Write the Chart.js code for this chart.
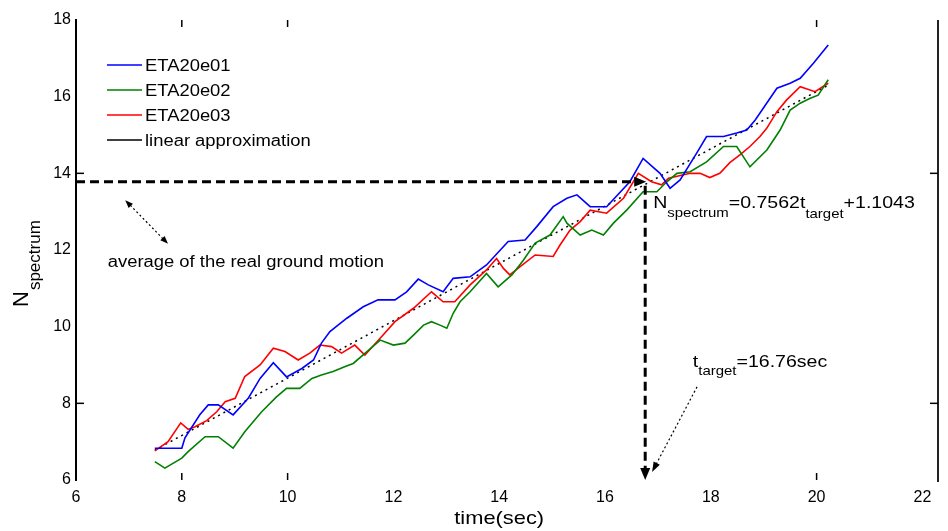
<!DOCTYPE html>
<html>
<head>
<meta charset="utf-8">
<script src="https://cdn.jsdelivr.net/npm/chart.js@4.4.1/dist/chart.umd.min.js"></script>
<style>
html,body{margin:0;padding:0;background:#fff;}
canvas{display:block;}
</style>
</head>
<body>
<canvas id="c" width="948" height="531" style="width:948px;height:531px"></canvas>
<script>
// ---------- data ----------
const seriesNames = ['ETA20e01', 'ETA20e02', 'ETA20e03', 'linear approximation'];

const timeE01 = [7.49,8.00,8.06,8.34,8.50,8.69,8.97,9.26,9.48,9.73,9.98,10.27,10.49,10.64,10.80,11.12,11.43,11.71,12.03,12.25,12.47,12.66,12.94,13.13,13.45,13.76,14.17,14.49,14.71,15.02,15.28,15.47,15.72,16.03,16.47,16.72,17.04,17.23,17.42,17.73,17.92,18.24,18.49,18.68,18.84,19.25,19.50,19.69,19.94,20.22];
const nE01    = [6.83,6.83,7.10,7.70,7.96,7.96,7.70,8.14,8.65,9.06,8.69,8.91,9.13,9.57,9.87,10.22,10.52,10.70,10.70,10.91,11.24,11.09,10.91,11.26,11.30,11.61,12.22,12.26,12.61,13.13,13.35,13.44,13.13,13.13,13.78,14.39,14.00,13.61,13.83,14.52,14.96,14.96,15.05,15.13,15.39,16.22,16.35,16.48,16.87,17.35];

const timeE02 = [7.49,7.68,8.00,8.12,8.44,8.69,8.97,9.19,9.51,9.79,9.98,10.23,10.46,10.64,10.86,11.09,11.24,11.50,11.75,12.00,12.22,12.38,12.57,12.72,12.88,13.01,13.13,13.26,13.45,13.76,13.98,14.24,14.46,14.68,14.96,15.21,15.28,15.53,15.75,15.97,16.16,16.41,16.72,16.98,17.17,17.36,17.61,17.92,18.24,18.49,18.74,19.06,19.31,19.50,19.69,19.88,20.03,20.22];
const nE02    = [6.48,6.31,6.57,6.74,7.13,7.13,6.83,7.26,7.78,8.17,8.39,8.39,8.65,8.74,8.83,8.96,9.04,9.35,9.65,9.52,9.57,9.78,10.04,10.13,10.04,9.96,10.35,10.65,10.91,11.39,11.04,11.35,11.74,12.18,12.39,12.87,12.70,12.39,12.52,12.39,12.70,13.04,13.52,13.52,13.78,14.00,14.04,14.30,14.70,14.70,14.17,14.61,15.13,15.65,15.83,15.96,16.04,16.44];

const timeE03 = [7.49,7.74,7.98,8.12,8.25,8.47,8.66,8.82,9.01,9.19,9.48,9.73,9.95,10.20,10.42,10.61,10.83,11.02,11.27,11.46,11.75,12.03,12.38,12.72,12.94,13.16,13.45,13.76,13.95,14.08,14.20,14.39,14.68,15.02,15.15,15.34,15.53,15.72,16.03,16.35,16.63,16.88,17.07,17.20,17.61,17.80,17.98,18.17,18.36,18.55,18.74,18.93,19.06,19.25,19.43,19.69,19.97,20.22];
const nE03    = [6.76,7.00,7.49,7.32,7.39,7.55,7.78,8.04,8.13,8.70,9.00,9.44,9.35,9.13,9.31,9.52,9.48,9.31,9.52,9.26,9.70,10.13,10.48,10.91,10.65,10.65,11.09,11.48,11.78,11.52,11.35,11.56,11.87,11.83,12.13,12.52,12.74,13.04,12.96,13.35,14.00,13.78,13.70,13.87,14.00,14.00,13.89,14.00,14.28,14.48,14.70,14.96,15.18,15.61,15.91,16.26,16.13,16.35];

const timeLinear = [7.49, 20.22];
const nLinear    = [6.78, 16.30];

const avgN = 13.78;     // average of the real ground motion
const targetT = 16.76;  // t_target

const xTickValues = [6, 8, 10, 12, 14, 16, 18, 20, 22];
const yTickValues = [6, 8, 10, 12, 14, 16, 18];
const xTickMarks = [8, 10, 20];
const yTickMarks = [8, 14];

// ---------- helpers ----------
const FONT = '"Liberation Sans", Arial, Helvetica, sans-serif';
const SX = 1.15; // horizontal text stretch seen in the reference
const pts = (xs, ys) => xs.map((v, i) => ({x: v, y: ys[i]}));

function line(ctx, x1, y1, x2, y2) { ctx.beginPath(); ctx.moveTo(x1, y1); ctx.lineTo(x2, y2); ctx.stroke(); }
function head(ctx, x, y, ang, len, wid) {
  ctx.save(); ctx.translate(x, y); ctx.rotate(ang);
  ctx.beginPath(); ctx.moveTo(0, 0); ctx.lineTo(-len, -wid / 2); ctx.lineTo(-len, wid / 2); ctx.closePath();
  ctx.fill(); ctx.restore();
}
function rich(ctx, segs, x, y) {
  let cx = x;
  segs.forEach(s => {
    ctx.font = s.size + 'px ' + FONT;
    ctx.save(); ctx.translate(cx, y + (s.dy || 0)); ctx.scale(SX, 1);
    ctx.fillText(s.t, 0, 0); ctx.restore();
    cx += ctx.measureText(s.t).width * SX;
  });
  return cx - x;
}

const overlay = {
  id: 'overlay',
  afterDraw(chart) {
    const {ctx, chartArea: a, scales: {x, y}} = chart;
    ctx.save();
    ctx.fillStyle = '#000'; ctx.textBaseline = 'alphabetic'; ctx.textAlign = 'left';

    // right frame line
    ctx.strokeStyle = '#222'; ctx.lineWidth = 2;
    line(ctx, a.right, a.top, a.right, a.bottom + 2);

    // inward tick marks
    ctx.strokeStyle = '#000'; ctx.lineWidth = 1.5;
    xTickMarks.forEach(v => { const p = x.getPixelForValue(v); line(ctx, p, a.bottom, p, a.bottom - 7); line(ctx, p, a.top, p, a.top + 7); });
    yTickMarks.forEach(v => { const p = y.getPixelForValue(v); line(ctx, a.left, p, a.left + 8, p); line(ctx, a.right, p, a.right - 8, p); });

    // dashed guide lines
    const tx = x.getPixelForValue(targetT), ny = y.getPixelForValue(avgN), by = y.getPixelForValue(6);
    ctx.lineWidth = 3; ctx.setLineDash([9, 5]);
    line(ctx, a.left, ny, tx - 8, ny);
    line(ctx, tx, ny + 4, tx, by - 8);
    ctx.setLineDash([]);
    head(ctx, tx + 1, ny, 0, 12, 10);
    head(ctx, tx, by, Math.PI / 2, 12, 10);

    // dotted annotation arrows
    ctx.lineWidth = 1.2; ctx.setLineDash([2, 2.5]);
    const a1 = [x.getPixelForValue(6.93), y.getPixelForValue(13.30)], a2 = [x.getPixelForValue(7.74), y.getPixelForValue(12.16)];
    line(ctx, a1[0] + 5, a1[1] + 5, a2[0] - 5, a2[1] - 5);
    const b1 = [x.getPixelForValue(17.74), y.getPixelForValue(8.43)], b2 = [x.getPixelForValue(16.89), y.getPixelForValue(6.21)];
    const angB = Math.atan2(b2[1] - b1[1], b2[0] - b1[0]);
    line(ctx, b1[0], b1[1], b2[0] - 8 * Math.cos(angB), b2[1] - 8 * Math.sin(angB));
    ctx.setLineDash([]);
    const angA = Math.atan2(a2[1] - a1[1], a2[0] - a1[0]);
    head(ctx, a1[0], a1[1], angA + Math.PI, 8, 6);
    head(ctx, a2[0], a2[1], angA, 8, 6);
    head(ctx, b2[0], b2[1], angB, 10, 7);

    // annotation texts
    rich(ctx, [{t: 'average of the real ground motion', size: 16}], x.getPixelForValue(6.6), y.getPixelForValue(11.55));
    rich(ctx, [
      {t: 'N', size: 17}, {t: 'spectrum', size: 13, dy: 9},
      {t: '=0.7562t', size: 17}, {t: 'target', size: 13, dy: 10},
      {t: '+1.1043', size: 17}
    ], x.getPixelForValue(16.91), y.getPixelForValue(13.10));
    rich(ctx, [{t: 't', size: 17}, {t: 'target', size: 13, dy: 8}, {t: '=16.76sec', size: 17}],
      x.getPixelForValue(17.66), y.getPixelForValue(8.95));

    // legend
    chart.data.datasets.forEach((ds, i) => {
      const ly = a.top + 45 + i * 25;
      ctx.strokeStyle = ds.borderColor; ctx.lineWidth = 1.5;
      line(ctx, a.left + 31, ly, a.left + 66, ly);
      rich(ctx, [{t: ds.label, size: 16}], a.left + 69, ly + 6);
    });

    // x axis title
    ctx.font = '19px ' + FONT;
    const xt = 'time(sec)', w = ctx.measureText(xt).width * SX;
    rich(ctx, [{t: xt, size: 19}], x.getPixelForValue(14) - w / 2, 524);

    // y axis title (rotated)
    ctx.save(); ctx.translate(28, 307); ctx.rotate(-Math.PI / 2);
    ctx.font = '22px ' + FONT; ctx.fillText('N', 0, 0);
    const nw = ctx.measureText('N').width;
    ctx.font = '17px ' + FONT; ctx.fillText('spectrum', nw + 1, 12);
    ctx.restore();

    ctx.restore();
  }
};

const common = {showLine: true, pointRadius: 0, borderWidth: 1.6, fill: false, tension: 0};

new Chart(document.getElementById('c'), {
  type: 'scatter',
  data: {
    datasets: [
      {...common, label: seriesNames[0], data: pts(timeE01, nE01), borderColor: '#0000ff'},
      {...common, label: seriesNames[1], data: pts(timeE02, nE02), borderColor: '#008000'},
      {...common, label: seriesNames[2], data: pts(timeE03, nE03), borderColor: '#ff0000'},
      {...common, label: seriesNames[3], data: pts(timeLinear, nLinear), borderColor: '#000000', borderDash: [2, 4], borderWidth: 1.5}
    ]
  },
  options: {
    responsive: false,
    animation: false,
    devicePixelRatio: 1,
    layout: {padding: {top: 20, right: 10, left: 0, bottom: 0}},
    plugins: {legend: {display: false}, tooltip: {enabled: false}},
    scales: {
      x: {
        type: 'linear', min: 6, max: 22.295,
        afterBuildTicks: s => { s.ticks = xTickValues.map(v => ({value: v})); },
        afterFit: s => { s.height = 51; },
        ticks: {font: {family: FONT, size: 16}, color: '#000', padding: 8, maxRotation: 0, autoSkip: false},
        grid: {display: false, drawTicks: false},
        border: {display: false}
      },
      y: {
        type: 'linear', min: 6, max: 18,
        afterBuildTicks: s => { s.ticks = yTickValues.map(v => ({value: v})); },
        afterFit: s => { s.width = 76; },
        ticks: {font: {family: FONT, size: 16}, color: '#000', padding: 5, autoSkip: false},
        grid: {display: false, drawTicks: false},
        border: {display: true, color: '#000', width: 2}
      }
    }
  },
  plugins: [overlay]
});
</script>
</body>
</html>
